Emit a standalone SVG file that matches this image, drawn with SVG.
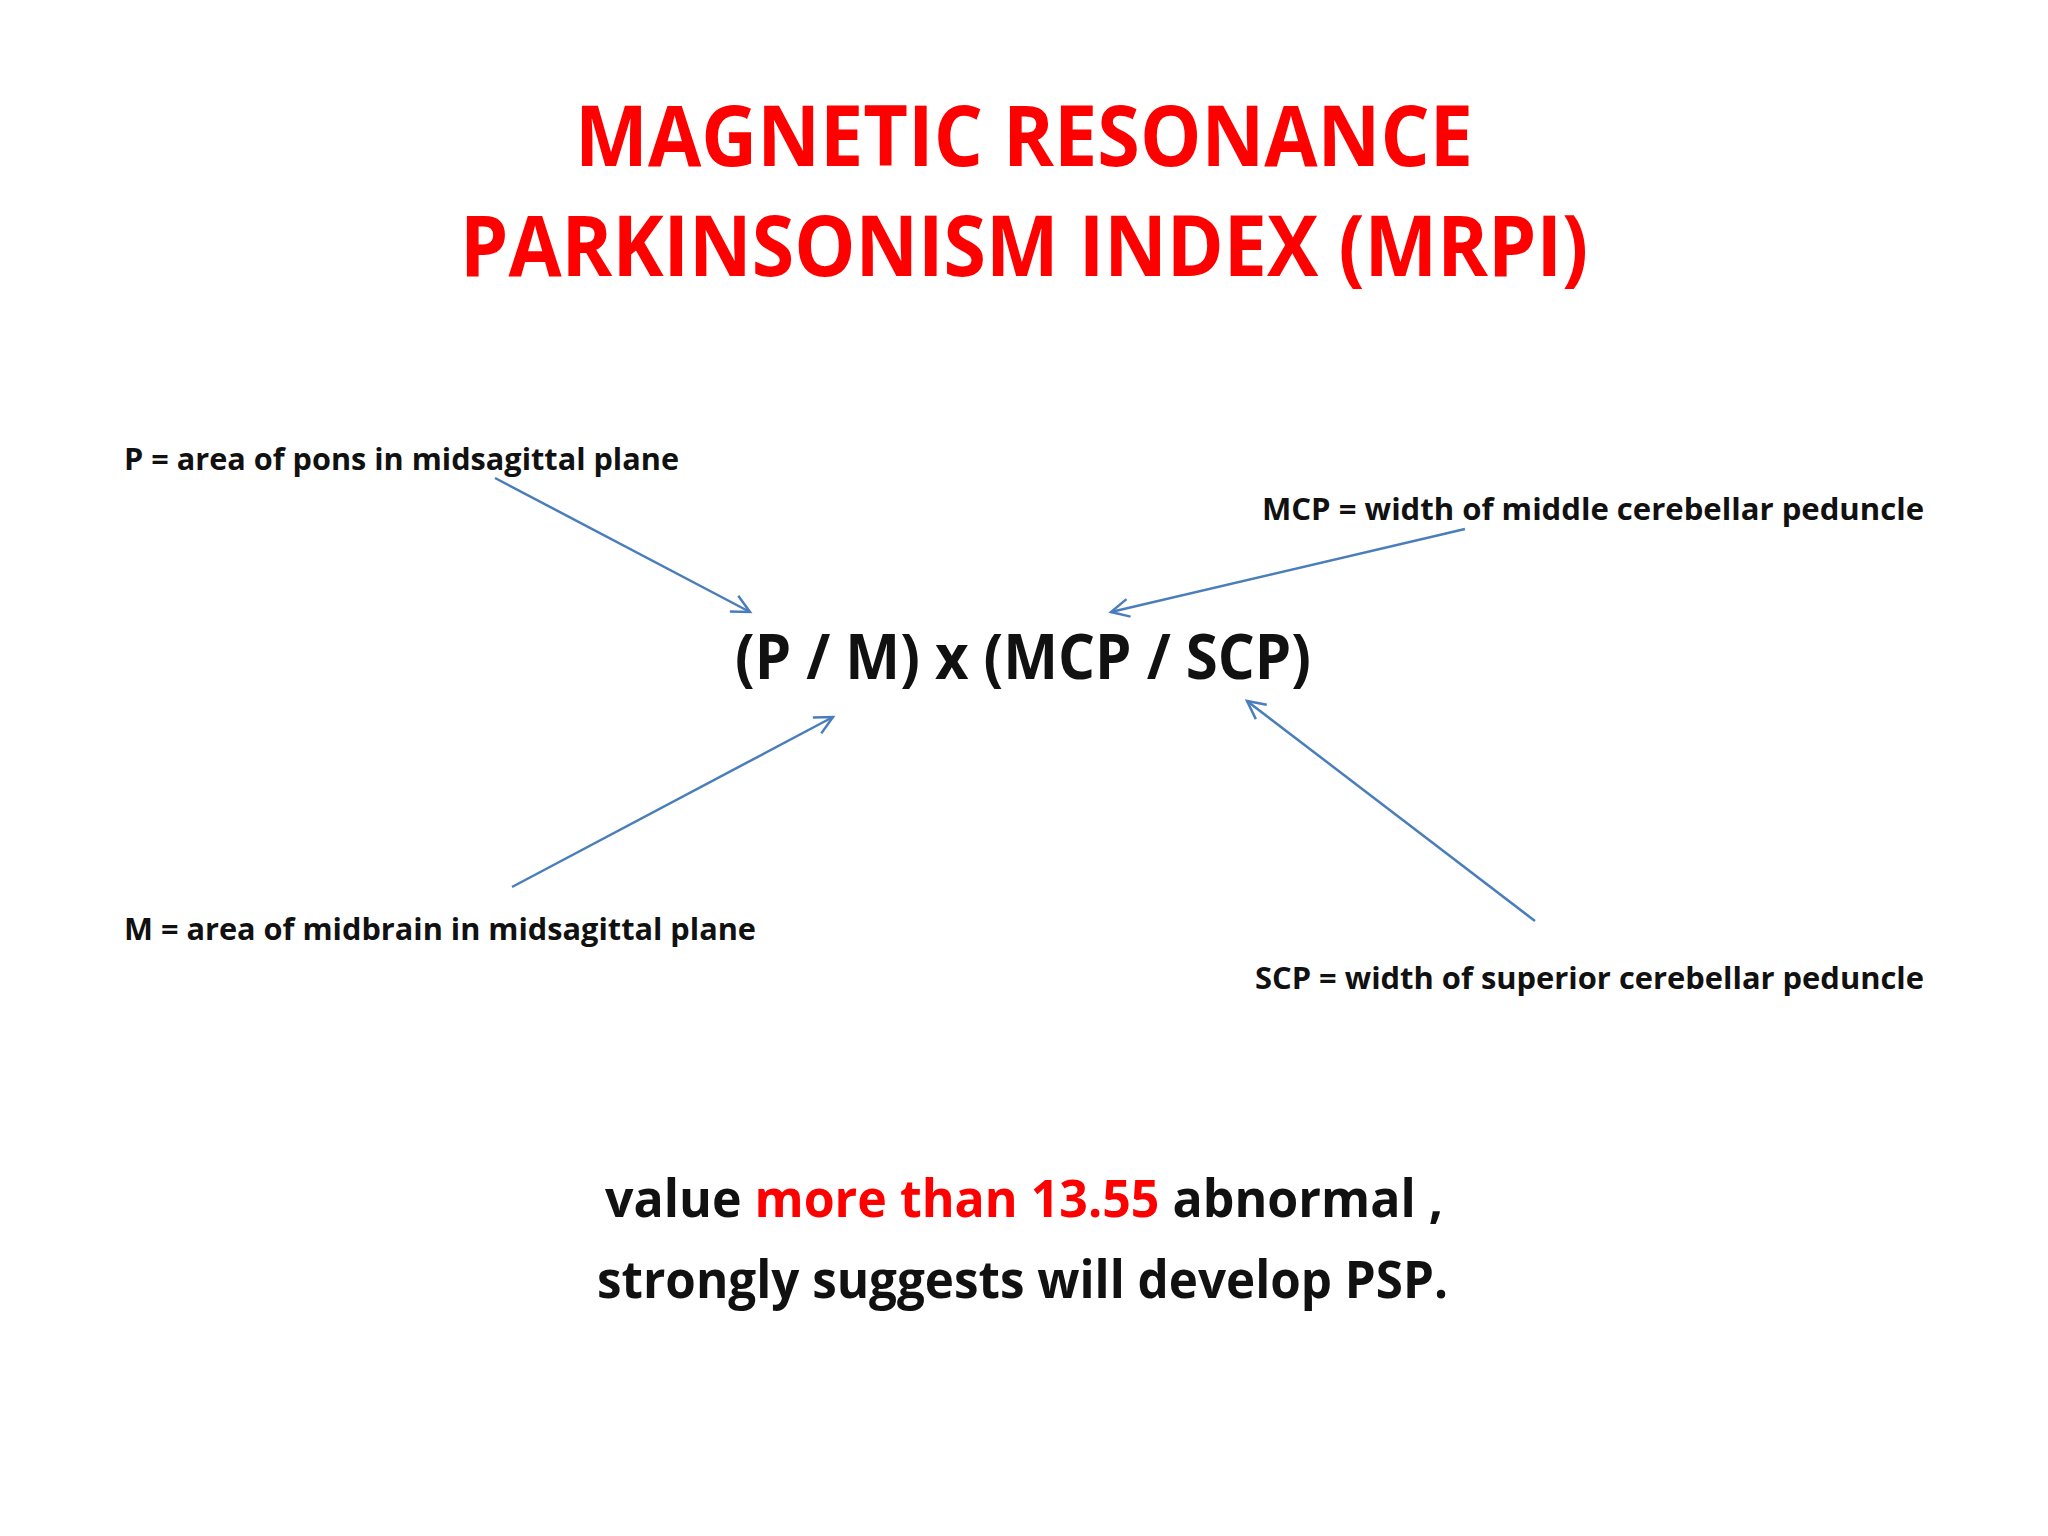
<svg xmlns="http://www.w3.org/2000/svg" width="2048" height="1536" viewBox="0 0 2048 1536">
<defs>
<marker id="ah" markerWidth="24" markerHeight="24" refX="20" refY="12" orient="auto" markerUnits="userSpaceOnUse"><path d="M2,3 L20,12 L2,21" fill="none" stroke="#4a7ebb" stroke-width="2.5"/></marker>
<style>
text{font-family:"Open Sans","Liberation Sans",sans-serif;font-weight:bold}
.t{fill:#ff0000;font-size:84px}
.l{fill:#111;font-size:30px}
.f{fill:#111;font-size:62px}
.b{fill:#111;font-size:52px}
.c{stroke:#4a7ebb;stroke-width:2.5;fill:none;marker-end:url(#ah)}
</style>
</defs>
<rect width="2048" height="1536" fill="#fff"/>
<g id="title">
<text class="t" x="1024" y="166" text-anchor="middle" textLength="898" lengthAdjust="spacingAndGlyphs">MAGNETIC RESONANCE</text>
<text class="t" x="1024" y="276" text-anchor="middle" textLength="1128" lengthAdjust="spacingAndGlyphs">PARKINSONISM INDEX (MRPI)</text>
</g>
<g id="p"><text class="l" x="124" y="470" textLength="555" lengthAdjust="spacingAndGlyphs">P = area of pons in midsagittal plane</text></g>
<g id="mcp"><text class="l" x="1262" y="520" textLength="662" lengthAdjust="spacingAndGlyphs">MCP = width of middle cerebellar peduncle</text></g>
<g id="m"><text class="l" x="124" y="940" textLength="632" lengthAdjust="spacingAndGlyphs">M = area of midbrain in midsagittal plane</text></g>
<g id="scp"><text class="l" x="1255" y="989" textLength="669" lengthAdjust="spacingAndGlyphs">SCP = width of superior cerebellar peduncle</text></g>
<g id="formula"><text class="f" x="735" y="679" textLength="576" lengthAdjust="spacingAndGlyphs">(P / M) x (MCP / SCP)</text></g>
<g id="note">
<text class="b" x="605" y="1217" textLength="838" lengthAdjust="spacingAndGlyphs">value <tspan fill="#ff0000">more than 13.55</tspan> abnormal ,</text>
<text class="b" x="597" y="1298" textLength="851" lengthAdjust="spacingAndGlyphs">strongly suggests will develop PSP.</text>
</g>
<g id="connectors">
<line class="c" x1="495" y1="478" x2="750" y2="612"/>
<line class="c" x1="1465" y1="529" x2="1111" y2="612"/>
<line class="c" x1="512" y1="887" x2="833" y2="717"/>
<line class="c" x1="1535" y1="921" x2="1247" y2="701"/>
</g>
</svg>
